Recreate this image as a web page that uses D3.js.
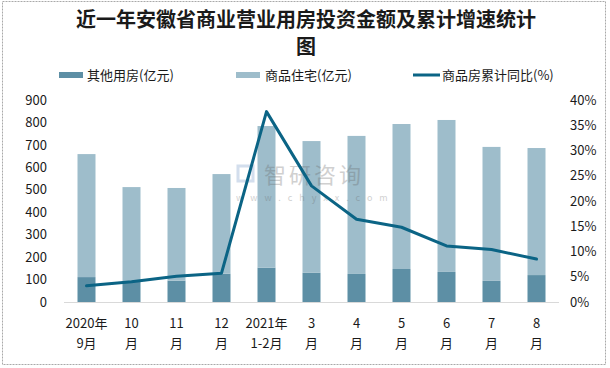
<!DOCTYPE html>
<html><head><meta charset="utf-8">
<script src="https://cdn.jsdelivr.net/npm/d3@7/dist/d3.min.js"></script>
<style>body{margin:0;background:#fff}svg{display:block}</style>
</head><body><svg id="c" width="610" height="368"></svg>
<script>
const categories = ["2020年\n9月","10\n月","11\n月","12\n月","2021年\n1-2月","3\n月","4\n月","5\n月","6\n月","7\n月","8\n月"];
const otherValues = [111, 90, 95, 126, 153, 130, 125, 147, 134, 94, 120];
const housingValues = [548, 422, 413, 444, 631, 587, 615, 646, 677, 597, 566];
const growthValues = [3.2, 4.0, 5.1, 5.7, 37.7, 23.0, 16.4, 14.8, 11.1, 10.4, 8.5];
const leftTicks = [0,100,200,300,400,500,600,700,800,900];
const rightTicks = [0,5,10,15,20,25,30,35,40];
const seriesNames = ["其他用房(亿元)","商品住宅(亿元)","商品房累计同比(%)"];
const title1 = "近一年安徽省商业营业用房投资金额及累计增速统计";
const title2 = "图";

const svg = d3.select("#c");
const font = "'Noto Sans CJK SC','Noto Sans',sans-serif";
const cDark = "#5d8fa5", cLight = "#9ebdcb", cLine = "#0b6485";

svg.append("rect").attr("x",2.5).attr("y",1.5).attr("width",603).attr("height",363)
  .attr("fill","#fff").attr("stroke","#a9a9a9").attr("stroke-dasharray","2,1");

svg.append("text").attr("x",306).attr("y",27).attr("text-anchor","middle")
  .attr("font-family",font).attr("font-weight","bold").attr("font-size",20).attr("fill","#1a1a1a").text(title1);
svg.append("text").attr("x",306).attr("y",54).attr("text-anchor","middle")
  .attr("font-family",font).attr("font-weight","bold").attr("font-size",20).attr("fill","#1a1a1a").text(title2);

const x = d3.scaleBand().domain(categories).range([64,559]).paddingInner(0.6).paddingOuter(0.3);
const yL = d3.scaleLinear().domain([0,900]).range([302,100]);
const yR = d3.scaleLinear().domain([0,40]).range([302,100]);

// bars
const g = svg.append("g");
g.selectAll(".bo").data(categories).join("rect")
  .attr("x",d=>x(d)).attr("width",x.bandwidth())
  .attr("y",(d,i)=>yL(otherValues[i])).attr("height",(d,i)=>yL(0)-yL(otherValues[i]))
  .attr("fill",cDark);
g.selectAll(".bh").data(categories).join("rect")
  .attr("x",d=>x(d)).attr("width",x.bandwidth())
  .attr("y",(d,i)=>yL(otherValues[i]+housingValues[i])).attr("height",(d,i)=>yL(otherValues[i])-yL(otherValues[i]+housingValues[i]))
  .attr("fill",cLight);

// watermark (on top, translucent)
const wm = svg.append("g").attr("opacity",0.3);
wm.append("rect").attr("x",238).attr("y",166).attr("width",15).attr("height",15).attr("fill","none").attr("stroke","#6f95c4").attr("stroke-width",3);
wm.append("text").attr("x",264).attr("y",183).attr("font-family",font).attr("font-size",22).attr("fill","#666").attr("letter-spacing",3).text("智研咨询");
wm.append("text").attr("x",236).attr("y",201).attr("font-family",font).attr("font-size",9).attr("fill","#666").attr("letter-spacing",7).text("www.chyxx.com");

// baseline
svg.append("line").attr("x1",64).attr("x2",559).attr("y1",302.5).attr("y2",302.5).attr("stroke","#d9d9d9").attr("stroke-width",1);

// line
const line = d3.line().x((d,i)=>x(categories[i])+x.bandwidth()/2).y(d=>yR(d));
svg.append("path").datum(growthValues).attr("d",line).attr("fill","none")
  .attr("stroke",cLine).attr("stroke-width",3).attr("stroke-linejoin","round").attr("stroke-linecap","round");

// axes
const axL = svg.append("g").attr("transform","translate(47,0)")
  .call(d3.axisLeft(yL).tickValues(leftTicks).tickSize(0).tickPadding(0));
axL.select(".domain").remove();
axL.selectAll("text").attr("font-family",font).attr("font-size",13).attr("fill","#1a1a1a");
const axR = svg.append("g").attr("transform","translate(570,0)")
  .call(d3.axisRight(yR).tickValues(rightTicks).tickFormat(d=>d+"%").tickSize(0).tickPadding(0));
axR.select(".domain").remove();
axR.selectAll("text").attr("font-family",font).attr("font-size",13).attr("fill","#1a1a1a");

const axB = svg.append("g").attr("transform","translate(0,302)")
  .call(d3.axisBottom(x).tickSize(0).tickPadding(0));
axB.select(".domain").remove();
axB.selectAll("text").each(function(d){
  const t = d3.select(this); t.text(null).attr("y",0).attr("dy",null)
   .attr("font-family",font).attr("font-size",13).attr("fill","#1a1a1a");
  d.split("\n").forEach((s,i)=>t.append("tspan").attr("x",0).attr("y",26+i*20).text(s));
});

// legend
const lg = svg.append("g").attr("font-family",font).attr("font-size",13).attr("fill","#1a1a1a");
lg.append("rect").attr("x",59).attr("y",72).attr("width",24).attr("height",6).attr("fill",cDark);
lg.append("text").attr("x",87).attr("y",80).text(seriesNames[0]);
lg.append("rect").attr("x",236).attr("y",72).attr("width",24).attr("height",6).attr("fill",cLight);
lg.append("text").attr("x",265).attr("y",80).text(seriesNames[1]);
lg.append("line").attr("x1",413).attr("x2",440).attr("y1",75).attr("y2",75).attr("stroke",cLine).attr("stroke-width",3);
lg.append("text").attr("x",442).attr("y",80).text(seriesNames[2]);
</script></body></html>
